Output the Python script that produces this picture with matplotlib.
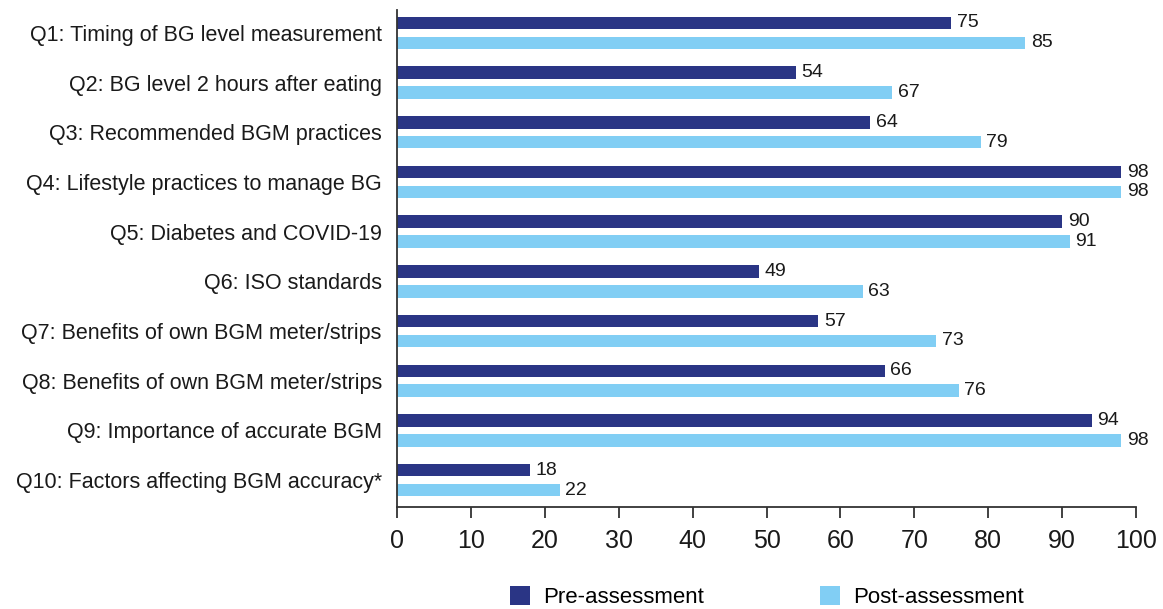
import matplotlib
matplotlib.use("Agg")
import matplotlib.pyplot as plt
import numpy as np
from matplotlib import font_manager

questions = [
    "Q1: Timing of BG level measurement",
    "Q2: BG level 2 hours after eating",
    "Q3: Recommended BGM practices",
    "Q4: Lifestyle practices to manage BG",
    "Q5: Diabetes and COVID-19",
    "Q6: ISO standards",
    "Q7: Benefits of own BGM meter/strips",
    "Q8: Benefits of own BGM meter/strips",
    "Q9: Importance of accurate BGM",
    "Q10: Factors affecting BGM accuracy*",
]
pre_assessment = [75, 54, 64, 98, 90, 49, 57, 66, 94, 18]
post_assessment = [85, 67, 79, 98, 91, 63, 73, 76, 98, 22]
x_ticks = [0, 10, 20, 30, 40, 50, 60, 70, 80, 90, 100]

names = {f.name for f in font_manager.fontManager.ttflist}
base = "Liberation Sans" if "Liberation Sans" in names else "DejaVu Sans"
plt.rcParams["font.family"] = [base, "DejaVu Sans"]

PRE_COLOR = "#2a3585"
POST_COLOR = "#81cef4"
TEXT_COLOR = "#1a1a1a"

fig = plt.figure(figsize=(11.63, 6.09), dpi=100)
ax = fig.add_axes([0.3414, 0.1675, 0.9768 - 0.3414, 0.9836 - 0.1675])

y = np.arange(len(questions))
offset = 0.2
height = 0.25

pre_bars = ax.barh(y - offset, pre_assessment, height=height, color=PRE_COLOR,
                   label="Pre-assessment")
post_bars = ax.barh(y + offset, post_assessment, height=height, color=POST_COLOR,
                    label="Post-assessment")

ax.bar_label(pre_bars, padding=4, fontsize=14, color=TEXT_COLOR)
ax.bar_label(post_bars, padding=4, fontsize=14, color=TEXT_COLOR)

ax.set_xlim(0, 100)
ax.set_ylim(len(questions) - 0.46, -0.46)
ax.set_xticks(x_ticks)
ax.set_xticklabels([str(t) for t in x_ticks], fontsize=18, color=TEXT_COLOR)
ax.set_yticks(y)
ax.set_yticklabels(questions, fontsize=15.5, color=TEXT_COLOR)

for side in ("top", "right"):
    ax.spines[side].set_visible(False)
for side in ("left", "bottom"):
    ax.spines[side].set_color("#333333")
    ax.spines[side].set_linewidth(1.3)

ax.tick_params(axis="x", direction="out", length=8, width=1.3, color="#333333", pad=8)
ax.tick_params(axis="y", length=0, pad=11)

leg = fig.legend(handles=[pre_bars, post_bars], loc="center",
                 bbox_to_anchor=(0.6595, 0.0197), ncol=2, frameon=False,
                 fontsize=16, handlelength=0.9, handleheight=0.9,
                 columnspacing=5.2, handletextpad=0.6, borderpad=0.1)

fig.savefig("out.png", dpi=100)
